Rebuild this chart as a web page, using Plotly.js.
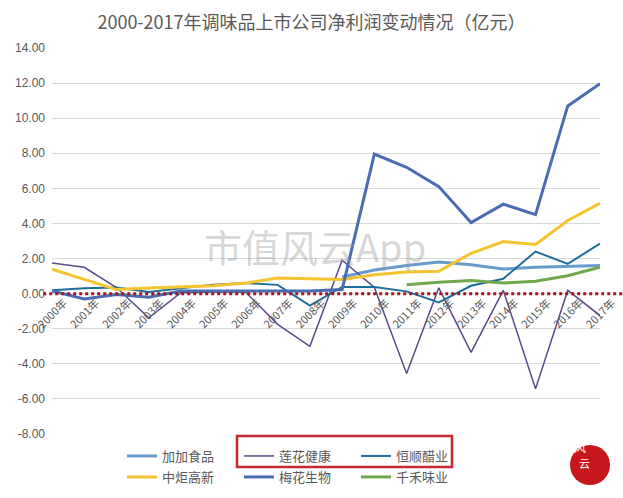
<!DOCTYPE html>
<html><head><meta charset="utf-8">
<script src="https://cdn.plot.ly/plotly-3.0.1.min.js"></script>
<style>html,body{margin:0;padding:0;background:#fff}#c{width:623px;height:498px}</style>
</head><body><div id="c"></div>
<script>
const years = ["2000年","2001年","2002年","2003年","2004年","2005年","2006年","2007年","2008年","2009年","2010年","2011年","2012年","2013年","2014年","2015年","2016年","2017年"];
const jiajia   = [null,null,null,null,null,null,null,null,null,0.95,1.35,1.6,1.8,1.65,1.4,1.5,1.55,1.6];
const lianhua  = [1.75,1.5,0.35,-1.38,0.05,0.1,0.1,-1.75,-3.0,1.9,0.35,-4.55,0.33,-3.35,0.19,-5.42,0.19,-1.25];
const hengshun = [0.2,0.3,0.35,0.1,0.3,0.5,0.6,0.5,-0.68,0.38,0.38,0.13,-0.5,0.45,0.85,2.4,1.7,2.85];
const zhongju  = [1.4,0.83,0.23,0.32,0.38,0.45,0.6,0.89,0.85,0.8,1.08,1.23,1.27,2.3,2.97,2.8,4.17,5.15];
const meihua   = [0.15,-0.3,-0.05,-0.2,0.15,0.15,0.15,0.15,0.15,0.23,7.95,7.2,6.1,4.05,5.1,4.5,10.7,11.97];
const qianhe   = [null,null,null,null,null,null,null,null,null,null,null,0.5,0.65,0.75,0.6,0.7,1.02,1.5];
const yTicks = [14,12,10,8,6,4,2,0,-2,-4,-6,-8];
const yTickText = ["14.00","12.00","10.00","8.00","6.00","4.00","2.00","0.00","-2.00","-4.00","-6.00","-8.00"];

function tr(name, y, color, width, lg){
  return {type:'scatter', mode:'lines', name:name, x:years, y:y, line:{color:color, width:width}, connectgaps:false, hoverinfo:'skip', legend:lg};
}
const data = [
  tr('加加食品', jiajia, '#6a9bcf', 3, 'legend'),
  tr('莲花健康', lianhua, '#5b4a8a', 1.5, 'legend'),
  tr('恒顺醋业', hengshun, '#1f6d9c', 2, 'legend'),
  tr('中炬高新', zhongju, '#f5c330', 3, 'legend2'),
  tr('梅花生物', meihua, '#4a6cb3', 3, 'legend2'),
  tr('千禾味业', qianhe, '#6fa84f', 3, 'legend2')
];
const gray = '#595959';
const legBase = {orientation:'h', xref:'container', yref:'container', x:122/623, xanchor:'left', yanchor:'top',
          entrywidth:72, entrywidthmode:'pixels', traceorder:'normal',
          font:{size:13, color:gray}, bgcolor:'rgba(0,0,0,0)', itemclick:false, itemdoubleclick:false};
const layout = {
  width:623, height:498,
  margin:{l:52, r:23, t:48, b:64},
  paper_bgcolor:'#fff', plot_bgcolor:'#fff',
  font:{family:'"Noto Sans CJK SC", "Liberation Sans", sans-serif', color:gray, size:12},
  title:{text:'2000-2017年调味品上市公司净利润变动情况（亿元）', x:0.5, xanchor:'center', y:0.955, yanchor:'middle',
         font:{family:'"Noto Sans CJK SC", sans-serif', size:18, color:gray}},
  xaxis:{type:'category', anchor:'free', position:8/22, showgrid:false, showline:false, zeroline:false,
         tickangle:-45, ticks:'', ticklabelshift:12, tickfont:{size:11, color:gray}, fixedrange:true, automargin:false},
  yaxis:{range:[-8,14], tickvals:yTicks, ticktext:yTickText, showgrid:true, gridcolor:'#d9d9d9', gridwidth:1,
         zeroline:false, showline:false, ticks:'', ticklabelstandoff:6, automargin:false,
         tickfont:{family:'"Liberation Sans", sans-serif', size:12, color:gray}, fixedrange:true},
  showlegend:true,
  legend:Object.assign({}, legBase, {y:1-441/498}),
  legend2:Object.assign({}, legBase, {y:1-462/498}),
  shapes:[
    {type:'line', xref:'paper', yref:'y', x0:-0.016, x1:1.045, y0:0, y1:0,
     line:{color:'#a3161f', width:3, dash:'3px,3px'}},
    {type:'rect', xref:'paper', yref:'paper', x0:(237-52)/548, x1:(452-52)/548, y0:(434-436)/386, y1:(434-467)/386,
     line:{color:'#c42a30', width:2.5}},
    {type:'circle', xref:'paper', yref:'paper', x0:(570-52)/548, x1:(610-52)/548, y0:(434-445)/386, y1:(434-485)/386,
     line:{width:0}, fillcolor:'#c8161d', layer:'below'}
  ],
  annotations:[
    {text:'市值风云App', xref:'paper', yref:'paper', x:(315-52)/548, y:(434-245)/386, showarrow:false,
     font:{family:'"Noto Sans CJK SC", sans-serif', size:38, color:'rgba(150,150,150,0.4)'}},
    {text:'风', xref:'paper', yref:'paper', x:(588-52)/548, y:(434-457)/386, showarrow:false,
     font:{family:'"Noto Sans CJK SC", sans-serif', size:12, color:'#ffffff'}},
    {text:'云', xref:'paper', yref:'paper', x:(592-52)/548, y:(434-473)/386, showarrow:false,
     font:{family:'"Noto Sans CJK SC", sans-serif', size:11, color:'#ffffff'}}
  ]
};
Plotly.newPlot('c', data, layout, {displayModeBar:false, staticPlot:true});
</script>
</body></html>
